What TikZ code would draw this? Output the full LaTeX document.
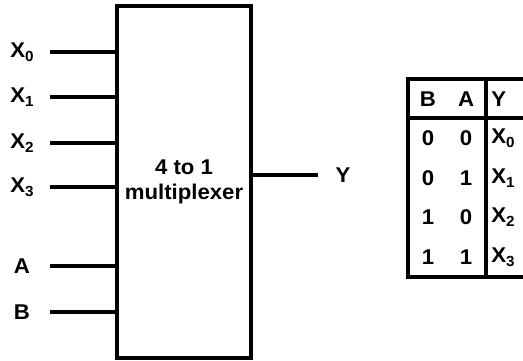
\documentclass[tikz,border=0pt]{standalone}
\usepackage{fontspec}
\setmainfont{Liberation Sans}[FakeStretch=1.04]
\usetikzlibrary{positioning,calc}
\newcommand{\sig}[2]{#1\raisebox{-0.35ex}{\fontsize{11}{13}\selectfont #2}}

\begin{document}
\begin{tikzpicture}[x=0.75pt,y=-0.75pt,font=\fontsize{16}{19}\selectfont\bfseries,
  wire/.style={line width=2.3pt},
  lbl/.style={inner sep=0pt}]
\useasboundingbox (0,0) rectangle (523,360);
% multiplexer block
\node[draw,line width=2.3pt,minimum width=100.5pt,minimum height=264pt,
  align=center,inner sep=0pt] (mux) at (184,182) {4 to 1\\multiplexer};
% data and select inputs
\foreach \name/\txt/\yy in {x0/{\sig{X}{0}}/52,x1/{\sig{X}{1}}/97,x2/{\sig{X}{2}}/143,
  x3/{\sig{X}{3}}/187,a/A/266,b/B/312}{
  \node[lbl] (\name) at (22,\yy) {\txt};
  \coordinate (\name s) at (50,\yy);
  \draw[wire] (\name s) -- (\name s -| mux.west);
}
% output
\node[lbl] (y) at (343,175) {Y};
\coordinate (yend) at (318,175);
\draw[wire] (mux.east |- yend) -- (yend);
% truth table
\coordinate (tl) at (408,79);
\coordinate (tr) at (523,79);
\coordinate (bl) at (408,277);
\coordinate (br) at (523,277);
\coordinate (dt) at (486,79);
\coordinate (db) at (486,277);
\coordinate (hl) at (408,118);
\coordinate (hr) at (523,118);
\draw[wire] (tr) -- (tl) -- (bl) -- (br);
\draw[wire] (dt) -- (db);
\draw[wire] (hl) -- (hr);
\node[lbl] (hb) at (428,99) {B};
\node[lbl] (ha) at (466,99) {A};
\node[lbl,anchor=west] (hy) at (491,99) {Y};
\foreach \b/\a/\k/\yy in {0/0/0/138,0/1/1/178,1/0/2/217,1/1/3/257}{
  \node[lbl] (rb\k) at (428,\yy) {\b};
  \node[lbl] (ra\k) at (466,\yy) {\a};
  \node[lbl,anchor=west] (ry\k) at (491,\yy) {\sig{X}{\k}};
}
\end{tikzpicture}
\end{document}
